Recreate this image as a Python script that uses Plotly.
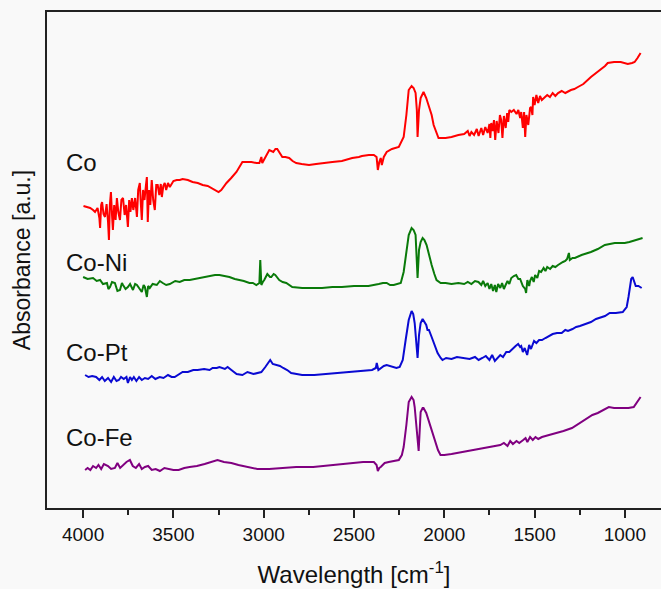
import plotly.graph_objects as go

# ---------------- data (wavenumber cm-1, absorbance a.u. with offsets) ----------------
co_wn = [3998, 3975, 3961, 3945, 3934, 3920, 3910, 3906, 3900, 3895, 3887, 3879, 3870, 3862, 3857,
         3852, 3846, 3840, 3835, 3828, 3820, 3813, 3805, 3796, 3788, 3779, 3770, 3762, 3752, 3745,
         3738, 3730, 3722, 3712, 3702, 3695, 3686, 3680, 3675, 3668, 3660, 3652, 3647, 3642, 3635,
         3628, 3620, 3612, 3603, 3595, 3587, 3578, 3570, 3564, 3556, 3548, 3540, 3530, 3520, 3500,
         3482, 3465, 3449, 3420, 3394, 3365, 3338, 3310, 3283, 3260, 3250, 3235, 3206, 3180, 3151,
         3118, 3090, 3068, 3040, 3024, 3013, 3008, 2990, 2969, 2947, 2935, 2925, 2910, 2897, 2880,
         2859, 2840, 2820, 2790, 2749, 2710, 2677, 2620, 2567, 2510, 2473, 2456, 2418, 2390, 2375,
         2368, 2360, 2352, 2346, 2335, 2319, 2290, 2252, 2225, 2210, 2197, 2181, 2170, 2159, 2152,
         2148, 2140, 2131, 2115, 2100, 2087, 2070, 2059, 2045, 2032, 1993, 1960, 1922, 1890, 1870,
         1860, 1850, 1835, 1820, 1810, 1795, 1785, 1773, 1760, 1750, 1745, 1740, 1732, 1725, 1718,
         1710, 1700, 1692, 1685, 1678, 1670, 1660, 1652, 1646, 1640, 1629, 1615, 1600, 1590, 1580,
         1574, 1565, 1558, 1552, 1545, 1535, 1525, 1519, 1512, 1508, 1500, 1490, 1480, 1470, 1460,
         1442, 1430, 1415, 1400, 1385, 1370, 1350, 1330, 1299, 1280, 1260, 1230, 1188, 1160, 1133,
         1110, 1095, 1060, 1023, 1000, 984, 960, 946, 930, 913]
co_abs = [302, 301, 300, 298, 296, 300, 290, 280, 303, 306, 294, 291, 304, 286, 268,
          303, 316, 293, 278, 303, 288, 310, 296, 288, 308, 310, 293, 303, 281, 308,
          296, 310, 298, 310, 291, 318, 325, 303, 288, 318, 308, 323, 331, 286, 318,
          303, 328, 308, 298, 323, 323, 313, 324, 311, 322, 325, 318, 325, 321, 327,
          328, 328, 329, 328, 326, 325, 323, 322, 319, 317, 316, 318, 325, 330, 336,
          346, 346, 346, 345, 345, 351, 345, 351, 358, 356, 359, 359, 355, 351, 351,
          350, 347, 345, 344, 343, 344, 345, 346, 347, 350, 351, 352, 353, 353, 351,
          338, 346, 350, 343, 351, 356, 359, 361, 371, 393, 418, 422, 420, 415, 398,
          371, 398, 410, 416, 410, 403, 393, 383, 375, 370, 370, 371, 373, 374, 377,
          372, 376, 373, 379, 372, 380, 373, 381, 375, 384, 370, 385, 377, 388, 368,
          387, 375, 393, 388, 370, 392, 380, 395, 386, 398, 396, 398, 394, 398, 390,
          396, 380, 396, 371, 393, 383, 400, 401, 393, 411, 403, 413, 405, 412, 408,
          411, 413, 411, 415, 412, 415, 417, 415, 418, 419, 421, 424, 431, 435, 438,
          442, 445, 446, 446, 445, 444, 445, 446, 450, 455]

coni_wn = [4000, 3975, 3945, 3925, 3906, 3890, 3868, 3860, 3851, 3840, 3824, 3810, 3796, 3785, 3779,
           3765, 3752, 3740, 3724, 3712, 3702, 3690, 3675, 3665, 3658, 3647, 3640, 3631, 3615, 3592,
           3575, 3559, 3540, 3520, 3490, 3465, 3440, 3410, 3380, 3355, 3330, 3300, 3270, 3245, 3220,
           3190, 3160, 3134, 3110, 3079, 3060, 3041, 3024, 3019, 3013, 3005, 2997, 2980, 2965, 2958,
           2945, 2936, 2914, 2895, 2875, 2842, 2787, 2730, 2677, 2620, 2567, 2500, 2456, 2420, 2363,
           2340, 2319, 2300, 2280, 2241, 2225, 2210, 2197, 2181, 2170, 2159, 2152, 2148, 2140, 2131,
           2120, 2110, 2098, 2085, 2070, 2055, 2043, 2020, 1993, 1960, 1922, 1890, 1870, 1850, 1830,
           1811, 1795, 1785, 1773, 1760, 1750, 1740, 1730, 1720, 1712, 1702, 1690, 1680, 1670, 1663,
           1650, 1640, 1629, 1615, 1602, 1590, 1580, 1565, 1552, 1547, 1540, 1530, 1525, 1515, 1505,
           1497, 1485, 1475, 1464, 1450, 1440, 1430, 1414, 1400, 1385, 1370, 1355, 1343, 1330, 1320,
           1315, 1310, 1305, 1290, 1277, 1240, 1188, 1150, 1111, 1080, 1056, 1030, 1001, 975, 946,
           920, 902]
coni_abs = [231, 229, 230, 227, 228, 224, 225, 219, 221, 226, 225, 217, 218, 225, 223,
            219, 221, 224, 218, 224, 223, 220, 216, 223, 221, 211, 222, 220, 224, 223,
            227, 225, 223, 224, 227, 226, 228, 228, 229, 230, 231, 232, 233, 233, 232,
            231, 229, 228, 227, 225, 225, 223, 225, 248, 223, 226, 228, 234, 231, 231,
            234, 233, 228, 226, 225, 221, 220, 220, 220, 221, 221, 222, 222, 222, 224,
            225, 225, 223, 223, 225, 236, 258, 273, 280, 278, 273, 253, 230, 258, 266,
            270, 268, 263, 253, 243, 234, 228, 225, 225, 224, 225, 224, 226, 224, 227,
            226, 223, 227, 222, 225, 219, 224, 217, 223, 216, 224, 220, 225, 219, 222,
            227, 224, 230, 232, 233, 229, 229, 222, 219, 215, 228, 222, 227, 231, 226,
            233, 230, 237, 236, 240, 237, 241, 239, 242, 241, 243, 245, 246, 247, 249,
            252, 255, 248, 250, 250, 253, 256, 259, 263, 264, 265, 265, 265, 266, 268,
            269, 270]

copt_wn = [3989, 3970, 3950, 3928, 3910, 3895, 3880, 3862, 3845, 3830, 3815, 3802, 3790, 3775, 3760,
           3752, 3740, 3730, 3719, 3705, 3690, 3675, 3658, 3640, 3620, 3600, 3576, 3555, 3530, 3510,
           3493, 3470, 3449, 3420, 3390, 3366, 3330, 3300, 3283, 3260, 3245, 3215, 3200, 3179, 3150,
           3118, 3090, 3057, 3035, 3013, 2991, 2975, 2964, 2950, 2930, 2910, 2892, 2870, 2848, 2820,
           2787, 2720, 2660, 2622, 2560, 2495, 2440, 2400, 2379, 2374, 2365, 2352, 2335, 2319, 2290,
           2265, 2247, 2230, 2214, 2197, 2181, 2172, 2164, 2155, 2148, 2140, 2131, 2120, 2110, 2100,
           2093, 2085, 2070, 2055, 2037, 2020, 2010, 1990, 1960, 1930, 1894, 1860, 1830, 1810, 1789,
           1770, 1750, 1735, 1720, 1707, 1690, 1675, 1657, 1640, 1620, 1605, 1591, 1580, 1574, 1565,
           1555, 1541, 1530, 1520, 1503, 1490, 1475, 1459, 1440, 1420, 1400, 1376, 1350, 1330, 1315,
           1290, 1270, 1249, 1220, 1188, 1160, 1128, 1110, 1084, 1050, 1012, 990, 980, 973, 965,
           957, 948, 940, 925, 907]
copt_abs = [133, 131, 132, 131, 128, 131, 127, 130, 126, 131, 127, 128, 131, 129, 131,
            125, 131, 128, 131, 127, 131, 128, 130, 129, 132, 129, 131, 130, 133, 131,
            131, 134, 136, 136, 138, 138, 139, 138, 140, 140, 141, 139, 141, 138, 134,
            133, 136, 134, 135, 136, 141, 145, 148, 144, 143, 142, 140, 138, 135, 134,
            133, 133, 134, 134, 135, 136, 137, 138, 140, 145, 138, 140, 142, 143, 141,
            140, 141, 148, 168, 188, 197, 194, 185, 168, 150, 173, 185, 189, 186, 183,
            178, 178, 171, 163, 155, 150, 148, 150, 149, 151, 150, 149, 151, 148, 150,
            152, 148, 153, 147, 150, 153, 151, 156, 156, 160, 162, 164, 161, 162, 156,
            160, 153, 163, 159, 167, 165, 168, 168, 170, 172, 174, 175, 175, 178, 177,
            179, 181, 182, 184, 186, 189, 191, 192, 195, 195, 196, 201, 211, 221, 229,
            231, 225, 222, 222, 220]

cofe_wn = [3989, 3975, 3960, 3945, 3928, 3915, 3900, 3885, 3862, 3845, 3824, 3810, 3795, 3779, 3760,
           3741, 3725, 3708, 3690, 3675, 3658, 3640, 3620, 3598, 3575, 3550, 3531, 3500, 3471, 3440,
           3410, 3370, 3327, 3290, 3256, 3220, 3179, 3140, 3096, 3060, 3035, 2970, 2908, 2820, 2726,
           2620, 2517, 2450, 2390, 2375, 2368, 2360, 2352, 2330, 2308, 2275, 2252, 2235, 2225, 2210,
           2197, 2181, 2170, 2164, 2155, 2142, 2136, 2131, 2120, 2115, 2100, 2082, 2065, 2048, 2035,
           2021, 2000, 1960, 1930, 1894, 1860, 1830, 1789, 1760, 1730, 1690, 1670, 1650, 1635, 1620,
           1600, 1585, 1563, 1550, 1540, 1525, 1510, 1495, 1480, 1459, 1420, 1376, 1340, 1293, 1250,
           1210, 1180, 1150, 1120, 1089, 1060, 1030, 1006, 980, 951, 930, 913]
cofe_abs = [38, 40, 38, 42, 40, 43, 39, 44, 42, 39, 40, 45, 40, 43, 46,
            48, 42, 40, 44, 39, 41, 42, 38, 39, 37, 40, 39, 38, 38, 40,
            41, 42, 44, 46, 48, 46, 45, 43, 41, 40, 39, 39, 40, 41, 41,
            43, 45, 46, 46, 43, 37, 40, 41, 45, 46, 47, 48, 53, 61, 83,
            106, 111, 108, 101, 83, 57, 78, 96, 100, 100, 95, 85, 75, 65, 58,
            53, 53, 54, 55, 56, 57, 58, 60, 61, 62, 63, 65, 62, 67, 64,
            67, 65, 68, 70, 66, 71, 68, 71, 69, 71, 73, 75, 77, 80, 85,
            90, 93, 95, 98, 101, 100, 100, 100, 100, 101, 106, 111]

series_names = ["Co", "Co-Ni", "Co-Pt", "Co-Fe"]
series_colors = ["#ff0000", "#0a7a0a", "#0a0ad2", "#800080"]
label_wn = 4108
label_abs = [346, 246, 156, 71]

x_ticks = [4000, 3500, 3000, 2500, 2000, 1500, 1000]

# ---------------- figure ----------------
FONT = "Liberation Sans, Arial, sans-serif"
fig = go.Figure()
for name, xs, ys, col in zip(series_names,
                             [co_wn, coni_wn, copt_wn, cofe_wn],
                             [co_abs, coni_abs, copt_abs, cofe_abs],
                             series_colors):
    fig.add_trace(go.Scatter(x=xs, y=ys, mode="lines", name=name,
                             line=dict(color=col, width=2), showlegend=False))

for name, ya in zip(series_names, label_abs):
    fig.add_annotation(x=label_wn, y=ya, text=name, showarrow=False,
                       xanchor="left", yanchor="middle",
                       font=dict(family=FONT, size=24, color="#111"))

fig.update_layout(
    width=661, height=589,
    margin=dict(l=47, r=0, t=12, b=81),
    paper_bgcolor="#f9f9f9", plot_bgcolor="#f9f9f9",
    font=dict(family=FONT, color="#111"),
    xaxis=dict(range=[4200, 800], tickvals=x_ticks, ticktext=[str(v) for v in x_ticks],
               showline=True, linecolor="#222", linewidth=1.5, mirror=True,
               ticks="outside", ticklen=8, tickwidth=1.5, tickcolor="#222",
               minor=dict(dtick=250, tick0=0, ticks="outside", ticklen=5, tickwidth=1.5, tickcolor="#222"),
               showgrid=False, zeroline=False,
               tickfont=dict(family=FONT, size=19, color="#111"),
               title=dict(text="Wavelength [cm<sup>-1</sup>]", standoff=23,
                          font=dict(family=FONT, size=24, color="#111"))),
    yaxis=dict(range=[0, 496], showticklabels=False, ticks="",
               showline=True, linecolor="#222", linewidth=1.5,
               showgrid=False, zeroline=False,
               title=dict(text="Absorbance [a.u.]", standoff=8,
                          font=dict(family=FONT, size=23, color="#111"))),
)

fig.write_html("out.html")
